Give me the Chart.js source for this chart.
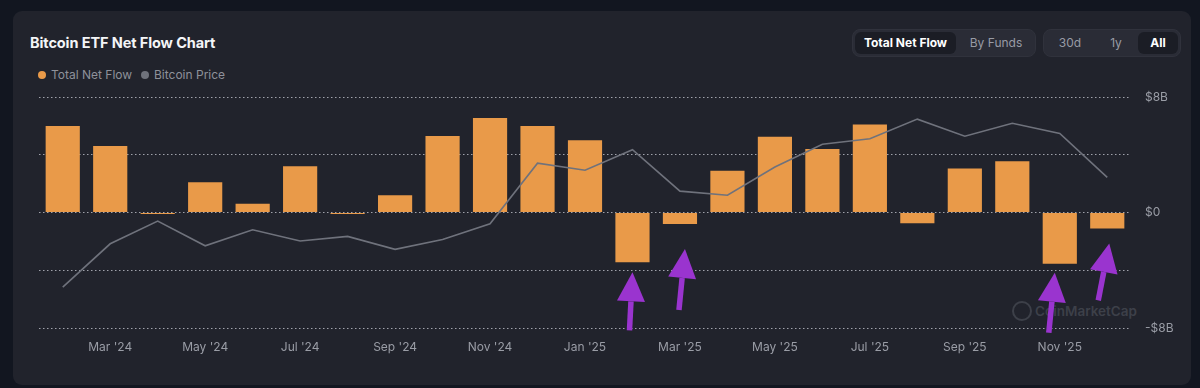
<!DOCTYPE html>
<html>
<head>
<meta charset="utf-8">
<script src="https://cdn.jsdelivr.net/npm/chart.js@4"></script>
<style>
  html, body { margin: 0; padding: 0; background: #121620; font-family: Inter, "Noto Sans", sans-serif; }
  #wrap { position: relative; width: 1200px; height: 388px; overflow: hidden; }
  #panel { position: absolute; left: 13px; top: 11px; width: 1178px; height: 374px; background: #21232c; border-radius: 9px; }
  #title { position: absolute; left: 30px; top: 34px; color: #f4f5f7; font-size: 14.5px; font-weight: 700; letter-spacing: -0.1px; }
  .leg { position: absolute; top: 67px; color: #8e919a; font-size: 12px; }
  .dot { display: inline-block; width: 8px; height: 8px; border-radius: 50%; margin-right: 5px; vertical-align: 0px; }
  .grp { position: absolute; top: 29px; height: 28px; background: #2a2c36; border: 1px solid #30323c; border-radius: 8px; box-sizing: border-box; }
  .btn { position: absolute; top: 2px; height: 22px; line-height: 22px; text-align: center; font-size: 12px; color: #989ba5; border-radius: 6px; }
  .btn.on { background: #1b1d25; color: #ffffff; font-weight: 700; }
  #wm { position: absolute; left: 1012px; top: 301px; color: #3d4049; font-size: 13.5px; font-weight: 600; }
  #wm span.logo { display: inline-block; width: 16px; height: 16px; border: 2px solid #3d4049; border-radius: 50%; margin-right: 3px; vertical-align: -5px; }
  canvas { position: absolute; left: 0; top: 0; }
</style>
</head>
<body>
<div id="wrap">
  <div id="panel"></div>
  <div id="title">Bitcoin ETF Net Flow Chart</div>
  <div class="leg" style="left:38px"><span class="dot" style="background:#e99a49"></span>Total Net Flow</div>
  <div class="leg" style="left:141px"><span class="dot" style="background:#6f727c"></span>Bitcoin Price</div>
  <div class="grp" style="left:852px;width:184px">
    <div class="btn on" style="left:2px;width:101px">Total Net Flow</div>
    <div class="btn" style="left:106px;width:74px">By Funds</div>
  </div>
  <div class="grp" style="left:1043px;width:138px">
    <div class="btn" style="left:6px;width:40px">30d</div>
    <div class="btn" style="left:52px;width:40px">1y</div>
    <div class="btn on" style="left:94px;width:40px">All</div>
  </div>
  <div id="wm"><span class="logo"></span>CoinMarketCap</div>
  <canvas id="myChart" width="1200" height="388"></canvas>
</div>
<script>
var months = ["Feb '24", "Mar '24", "Apr '24", "May '24", "Jun '24", "Jul '24", "Aug '24", "Sep '24",
              "Oct '24", "Nov '24", "Dec '24", "Jan '25", "Feb '25", "Mar '25", "Apr '25", "May '25",
              "Jun '25", "Jul '25", "Aug '25", "Sep '25", "Oct '25", "Nov '25", "Dec '25"];
// net flow, $B
var netFlow = [6.0, 4.6, -0.1, 2.1, 0.6, 3.2, -0.1, 1.2, 5.3, 6.55, 6.0, 5.0,
               -3.45, -0.8, 2.9, 5.25, 4.4, 6.1, -0.75, 3.05, 3.55, -3.55, -1.1];
// bitcoin price, $k
var btcPrice = [52.0, 69.0, 77.9, 68.2, 74.5, 70.1, 71.9, 66.8, 70.7, 76.9, 100.7, 97.9,
                106.0, 89.7, 88.1, 99.2, 108.1, 110.3, 118.0, 111.3, 116.4, 112.4, 95.1];
var flowTicks = [-8, -4, 0, 4, 8];
var flowTickLabels = {'-8': '-$8B', '0': '$0', '8': '$8B'};
// purple arrows drawn on the screenshot: [index, tip dx, gap below bar, length, lean]
var arrows = [[12, 0, 10, 58, -3], [13, 5, 25, 61, -6], [21, -5, 9, 60, -6], [22, 2, 15, 57, -11]];

var arrowPlugin = {
    id: 'arrows',
    afterDatasetsDraw: function(chart) {
        var c = chart.ctx, xs = chart.scales.x, ys = chart.scales.y;
        c.save();
        c.fillStyle = '#9a34cf';
        c.strokeStyle = '#9a34cf';
        arrows.forEach(function(a) {
            var tx = xs.getPixelForValue(a[0]) + a[1];
            var ty = ys.getPixelForValue(Math.min(0, netFlow[a[0]])) + a[2];
            var bx = tx + a[4], by = ty + a[3];
            var ang = Math.atan2(by - ty, bx - tx);
            var hl = 29, hw = 14;
            var hx = tx + Math.cos(ang) * hl, hy = ty + Math.sin(ang) * hl;
            var px = -Math.sin(ang), py = Math.cos(ang);
            c.lineWidth = 5.5;
            c.beginPath();
            c.moveTo(hx, hy);
            c.lineTo(bx, by);
            c.stroke();
            c.beginPath();
            c.moveTo(tx, ty);
            c.lineTo(hx + px * hw, hy + py * hw);
            c.lineTo(hx - px * hw, hy - py * hw);
            c.closePath();
            c.fill();
        });
        c.restore();
    }
};

window.onload = function(){
    var ctx = document.getElementById('myChart').getContext('2d');
    window.myChart = new Chart(ctx, {
        type: 'bar',
        data: {
            labels: months,
            datasets: [{
                type: 'line',
                label: 'Bitcoin Price',
                data: btcPrice,
                yAxisID: 'y1',
                borderColor: '#6f727c',
                borderWidth: 1.6,
                pointRadius: 0,
                tension: 0,
                order: 0
            }, {
                label: 'Total Net Flow',
                data: netFlow,
                yAxisID: 'y',
                backgroundColor: '#e99a49',
                borderWidth: 0,
                barPercentage: 0.72,
                categoryPercentage: 1,
                order: 1
            }]
        },
        options: {
            responsive: false,
            animation: false,
            layout: { padding: { left: 39, top: 97, right: 0, bottom: 0 } },
            plugins: { legend: { display: false }, tooltip: { enabled: false } },
            scales: {
                x: {
                    grid: { display: false, drawTicks: false },
                    border: { display: false },
                    ticks: {
                        autoSkip: false,
                        maxRotation: 0,
                        padding: 12,
                        color: '#9a9da6',
                        font: { family: 'Inter', size: 12 },
                        callback: function(v, i) { return i % 2 === 1 ? months[i] : ''; }
                    },
                    afterFit: function(s) { s.height = 60; }
                },
                y: {
                    position: 'right',
                    min: -8,
                    max: 8,
                    afterBuildTicks: function(s) { s.ticks = flowTicks.map(function(v) { return { value: v }; }); },
                    grid: { color: 'rgba(215,217,225,0.7)', drawTicks: false, lineWidth: 1 },
                    border: { display: false, dash: [1.5, 2.5] },
                    ticks: {
                        padding: 14,
                        color: '#9a9da6',
                        font: { family: 'Inter', size: 12 },
                        callback: function(v) { return flowTickLabels[String(v)] || ''; }
                    },
                    afterFit: function(s) { s.width = 69; }
                },
                y1: {
                    display: false,
                    min: 35.9,
                    max: 126.7
                }
            }
        },
        plugins: [arrowPlugin]
    });
};
</script>
</body>
</html>
